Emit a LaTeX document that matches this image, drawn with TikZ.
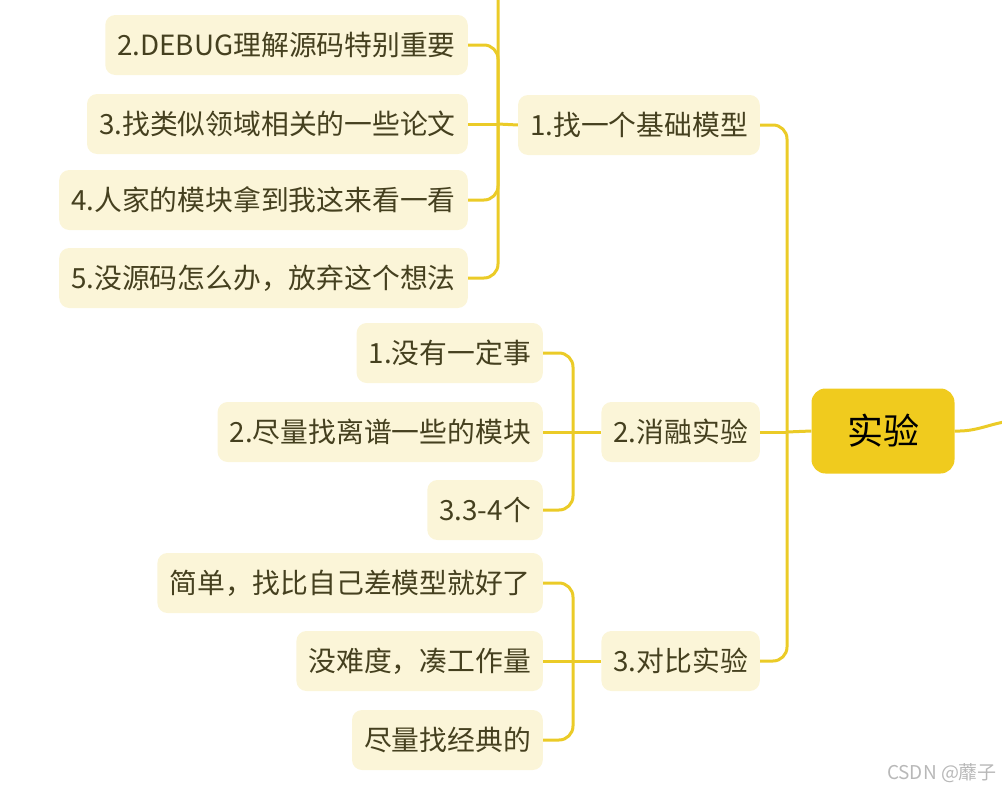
\documentclass[tikz,border=0pt]{standalone}
\usepackage{fontspec}
\setmainfont{Noto Sans CJK SC}
\definecolor{mapgold}{HTML}{EBCB27}
\definecolor{rootgold}{HTML}{F0CB1E}
\definecolor{mapcream}{HTML}{FBF5D8}
\definecolor{maptext}{HTML}{45401F}

\begin{document}
\begin{tikzpicture}[x=1pt,y=-1pt,
 topic/.style={fill=mapcream,rounded corners=10pt,minimum height=60pt,inner xsep=12pt,
 text=maptext,font=\fontsize{27.8}{34}\selectfont,anchor=east},
 root/.style={fill=rootgold,rounded corners=14pt,minimum width=143pt,minimum height=85pt,
 font=\fontsize{36}{40}\selectfont},
 branch/.style={draw=mapgold,line width=3pt},
 elbow/.style={branch,rounded corners=14pt},
 watermark/.style={text=black!28,font=\fontsize{19}{22}\selectfont}]
\useasboundingbox (0,0) rectangle (1002,795);
\clip (0,0) rectangle (1002,795);
\node[root] (exp) at (883,431) {实验};
\node[topic] (t1) at (760,125) {1.找一个基础模型};
\node[topic] (t2) at (760,432) {2.消融实验};
\node[topic] (t3) at (760,661) {3.对比实验};
\node[topic,minimum width=310pt] (a1) at (468,-33) {};
\foreach \n/\y/\txt in {a2/45/{2.DEBUG理解源码特别重要},a3/124/{3.找类似领域相关的一些论文},
 a4/200/{4.人家的模块拿到我这来看一看},a5/278/{5.没源码怎么办，放弃这个想法}} {
 \node[topic] (\n) at (468,\y) {\txt};
}
\foreach \n/\y/\txt in {b1/353/{1.没有一定事},b2/432/{2.尽量找离谱一些的模块},b3/510/{3.3-4个},
 c1/583/{简单，找比自己差模型就好了},c2/661/{没难度，凑工作量},c3/740/{尽量找经典的}} {
 \node[topic] (\n) at (543,\y) {\txt};
}
\coordinate (trunk) at (787,432);
\coordinate (j1) at (498,124);
\coordinate (j2) at (573,432);
\coordinate (j3) at (573,661);
\coordinate (offmap) at (1010,421);
\draw[branch] (exp.west) -- (trunk);
\draw[branch] (exp.east) to[out=-2,in=188] (offmap);
\draw[elbow] (trunk) |- (t1.east);
\draw[elbow] (trunk) |- (t3.east);
\draw[branch] (trunk) -- (t2.east);
\draw[branch] (t1.west) -- (j1);
\draw[branch] (t2.west) -- (j2);
\draw[branch] (t3.west) -- (j3);
\foreach \c in {a1,a2,a4,a5} \draw[elbow] (j1) |- (\c.east);
\draw[branch] (j1) -- (a3.east);
\foreach \c in {b1,b3} \draw[elbow] (j2) |- (\c.east);
\draw[branch] (j2) -- (b2.east);
\foreach \c in {c1,c3} \draw[elbow] (j3) |- (\c.east);
\draw[branch] (j3) -- (c2.east);
\node[watermark] (csdn) at (942,773) {CSDN @蘼子};
\end{tikzpicture}
\end{document}
